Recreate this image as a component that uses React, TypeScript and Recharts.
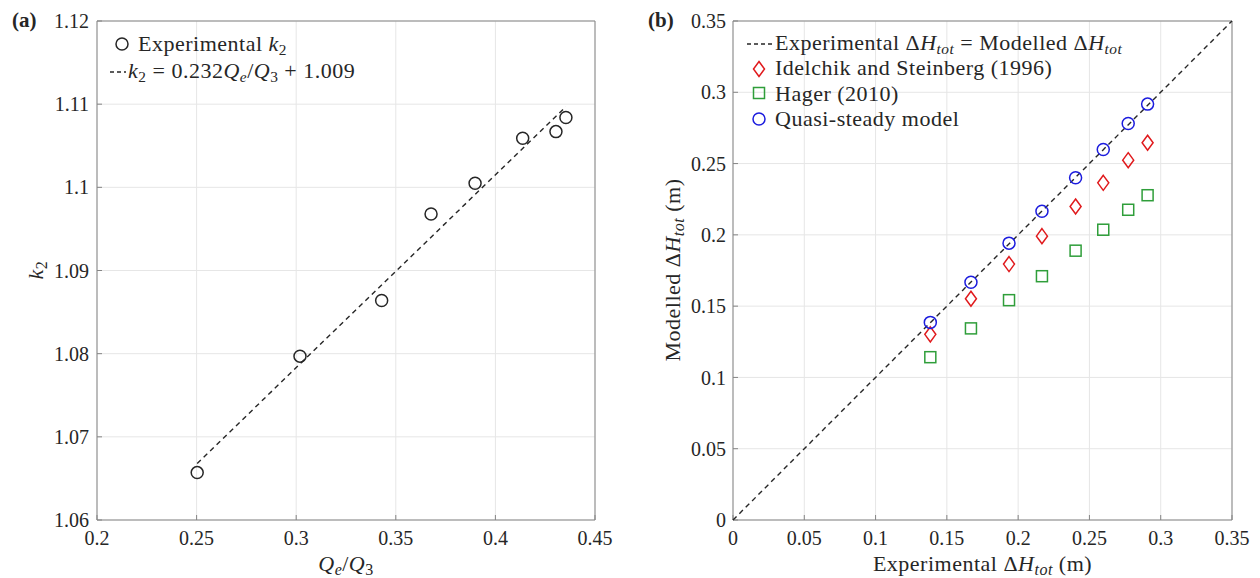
import { CartesianGrid, Label, Legend, Scatter, ScatterChart, XAxis, YAxis } from "recharts"

// panel (a): k2 vs Qe/Q3
const qRatio = [0.2503, 0.3019, 0.3429, 0.3677, 0.3898, 0.4137, 0.4304, 0.4354]
const k2Exp = [1.0657, 1.0797, 1.0864, 1.0968, 1.1005, 1.1059, 1.1067, 1.1084]
const fitQ = [0.2503, 0.4354]
const fitK2 = [1.0668, 1.1097]
const qTicks = [0.2, 0.25, 0.3, 0.35, 0.4, 0.45]
const k2Ticks = [1.06, 1.07, 1.08, 1.09, 1.1, 1.11, 1.12]

// panel (b): modelled vs experimental head loss
const expH = [0.1384, 0.1669, 0.1936, 0.2167, 0.2403, 0.2597, 0.2772, 0.2908]
const quasiH = [0.1386, 0.1668, 0.1942, 0.2166, 0.24, 0.2599, 0.2781, 0.2917]
const idelchikH = [0.1302, 0.1552, 0.1795, 0.1991, 0.2199, 0.2365, 0.2524, 0.2646]
const hagerH = [0.1142, 0.1344, 0.1542, 0.171, 0.1889, 0.2036, 0.2176, 0.2278]
const parityH = [0, 0.35]
const hTicks = [0, 0.05, 0.1, 0.15, 0.2, 0.25, 0.3, 0.35]

const FONT = "'Liberation Serif', 'Times New Roman', serif"
const INK = "#262626"
const FRAME = "#858585"
const GRID = "#e6e6e6"
const RED = "#e0191c"
const GREEN = "#2f9e3a"
const BLUE = "#1c1cde"
const TXT = 22
const SPACING = 0.5

const zip = (xs: number[], ys: number[]) => xs.map((x, i) => ({ x, y: ys[i] }))

const k2Data = zip(qRatio, k2Exp)
const fitData = zip(fitQ, fitK2)
const quasiData = zip(expH, quasiH)
const idelchikData = zip(expH, idelchikH)
const hagerData = zip(expH, hagerH)
const parityData = zip(parityH, parityH)

const tickStyle = { fontFamily: FONT, fontSize: 20, fill: INK }

const circle = (color: string) => (p: any) => (
  <circle cx={p.cx} cy={p.cy} r={6} fill="none" stroke={color} strokeWidth={1.5} />
)
const diamond = (p: any) => (
  <path
    d={`M${p.cx},${p.cy - 7.5}L${p.cx + 5.5},${p.cy}L${p.cx},${p.cy + 7.5}L${p.cx - 5.5},${p.cy}Z`}
    fill="none"
    stroke={RED}
    strokeWidth={1.5}
  />
)
const square = (p: any) => (
  <rect x={p.cx - 5.5} y={p.cy - 5.5} width={11} height={11} fill="none" stroke={GREEN} strokeWidth={1.5} />
)
const noShape = () => <g />

const sub = { fontSize: "70%", verticalAlign: "-0.25em", lineHeight: 0 }

function DeltaH() {
  return (
    <>
      Δ<i>H</i>
      <sub style={sub}>
        <i>tot</i>
      </sub>
    </>
  )
}

const dash = (x: number, y: number, w: number) => (
  <svg style={{ position: "absolute", left: x, top: y - 2 }} width={w} height={4}>
    <line x1={0} y1={2} x2={w} y2={2} stroke={INK} strokeWidth={1.4} strokeDasharray="4 3" />
  </svg>
)

const row = (x: number, y: number, children: any) => (
  <div style={{ position: "absolute", left: x, top: y - 11, height: 22, lineHeight: "22px", whiteSpace: "nowrap" }}>
    {children}
  </div>
)

const legendBox = { position: "relative" as const, width: 630, fontFamily: FONT, fontSize: TXT, letterSpacing: SPACING, color: INK }

function LegendA() {
  return (
    <div style={{ ...legendBox, height: 100 }}>
      <svg style={{ position: "absolute", left: 115, top: 37 }} width={14} height={14}>
        <circle cx={7} cy={7} r={6} fill="none" stroke={INK} strokeWidth={1.5} />
      </svg>
      {row(138, 44, <>Experimental <i>k</i><sub style={sub}>2</sub></>)}
      {dash(110, 72, 16)}
      {row(128, 71, <><i>k</i><sub style={sub}>2</sub> = 0.232<i>Q</i><sub style={sub}><i>e</i></sub>/<i>Q</i><sub style={sub}>3</sub> + 1.009</>)}
    </div>
  )
}

function LegendB() {
  return (
    <div style={{ ...legendBox, height: 140 }}>
      {dash(117, 44, 27)}
      {row(145, 43, <>Experimental <DeltaH /> = Modelled <DeltaH /></>)}
      <svg style={{ position: "absolute", left: 121, top: 60 }} width={16} height={18}>
        <path d="M8,1.5L13.5,9L8,16.5L2.5,9Z" fill="none" stroke={RED} strokeWidth={1.5} />
      </svg>
      {row(145, 68, <>Idelchik and Steinberg (1996)</>)}
      <svg style={{ position: "absolute", left: 122, top: 86 }} width={14} height={14}>
        <rect x={1.5} y={1.5} width={11} height={11} fill="none" stroke={GREEN} strokeWidth={1.5} />
      </svg>
      {row(145, 93.5, <>Hager (2010)</>)}
      <svg style={{ position: "absolute", left: 122, top: 112 }} width={14} height={14}>
        <circle cx={7} cy={7} r={6} fill="none" stroke={BLUE} strokeWidth={1.5} />
      </svg>
      {row(145, 119, <>Quasi-steady model</>)}
    </div>
  )
}

const titleProps = { fontFamily: FONT, fontSize: TXT, letterSpacing: SPACING, fill: INK, textAnchor: "middle" as const }

const QLabel = ({ viewBox }: any) => (
  <text x={viewBox.x + viewBox.width / 2} y={viewBox.y + 51} {...titleProps}>
    <tspan fontStyle="italic">Q</tspan>
    <tspan dy={4} fontSize={16} fontStyle="italic">e</tspan>
    <tspan dy={-4}>/</tspan>
    <tspan fontStyle="italic">Q</tspan>
    <tspan dy={4} fontSize={16}>3</tspan>
  </text>
)

const K2Label = () => (
  <text x={43} y={270} transform="rotate(-90 43 270)" {...titleProps}>
    <tspan fontStyle="italic">k</tspan>
    <tspan dy={4} fontSize={16}>2</tspan>
  </text>
)

const ExpLabel = ({ viewBox }: any) => (
  <text x={viewBox.x + viewBox.width / 2} y={viewBox.y + 51} {...titleProps}>
    <tspan>Experimental Δ</tspan>
    <tspan fontStyle="italic">H</tspan>
    <tspan dy={4} fontSize={16} fontStyle="italic">tot</tspan>
    <tspan dy={-4}> (m)</tspan>
  </text>
)

const ModLabel = () => (
  <text x={50} y={270} transform="rotate(-90 50 270)" {...titleProps}>
    <tspan>Modelled Δ</tspan>
    <tspan fontStyle="italic">H</tspan>
    <tspan dy={4} fontSize={16} fontStyle="italic">tot</tspan>
    <tspan dy={-4}> (m)</tspan>
  </text>
)

const fmt = (v: number) => String(v)

const panelTag = (text: string, left: number) => (
  <div
    style={{
      position: "absolute",
      left,
      top: 7,
      fontFamily: FONT,
      fontSize: 21,
      fontWeight: "bold",
      color: INK,
      lineHeight: "26px",
    }}
  >
    {text}
  </div>
)

export default function App() {
  return (
    <div style={{ position: "fixed", left: 0, top: 0, width: 1260, height: 578, background: "#fff" }}>
      {panelTag("(a)", 12)}
      {panelTag("(b)", 648)}

      <div style={{ position: "absolute", left: 0, top: 0 }}>
        <ScatterChart width={630} height={578} margin={{ top: 20, right: 34, bottom: 28, left: 37 }}>
          <CartesianGrid stroke={GRID} strokeWidth={1} />
          <XAxis
            type="number"
            dataKey="x"
            domain={[0.2, 0.45]}
            ticks={qTicks}
            tickFormatter={fmt}
            height={30}
            stroke={FRAME}
            tick={tickStyle}
            tickSize={-5}
            tickMargin={16}
            interval={0}
          >
            <Label content={QLabel} />
          </XAxis>
          <XAxis xAxisId="top" orientation="top" type="number" domain={[0.2, 0.45]} ticks={qTicks} height={1} stroke={FRAME} tick={false} tickSize={-5} />
          <YAxis
            type="number"
            dataKey="y"
            domain={[1.06, 1.12]}
            ticks={k2Ticks}
            tickFormatter={fmt}
            width={60}
            stroke={FRAME}
            tick={tickStyle}
            tickSize={-5}
            tickMargin={13}
            interval={0}
          >
            <Label content={K2Label} />
          </YAxis>
          <YAxis yAxisId="right" orientation="right" type="number" domain={[1.06, 1.12]} ticks={k2Ticks} width={1} stroke={FRAME} tick={false} tickSize={-5} />
          <Scatter
            data={fitData}
            shape={noShape}
            line={{ stroke: INK, strokeWidth: 1.4, strokeDasharray: "5 4" }}
            isAnimationActive={false}
          />
          <Scatter data={k2Data} shape={circle(INK)} isAnimationActive={false} />
          <Legend layout="vertical" align="center" verticalAlign="middle" wrapperStyle={{ left: 0, top: 0, width: 630 }} content={() => <LegendA />} />
        </ScatterChart>
      </div>

      <div style={{ position: "absolute", left: 630, top: 0 }}>
        <ScatterChart width={630} height={578} margin={{ top: 20, right: 27, bottom: 28, left: 43 }}>
          <CartesianGrid stroke={GRID} strokeWidth={1} />
          <XAxis
            type="number"
            dataKey="x"
            domain={[0, 0.35]}
            ticks={hTicks}
            tickFormatter={fmt}
            height={30}
            stroke={FRAME}
            tick={tickStyle}
            tickSize={-5}
            tickMargin={16}
            interval={0}
          >
            <Label content={ExpLabel} />
          </XAxis>
          <XAxis xAxisId="top" orientation="top" type="number" domain={[0, 0.35]} ticks={hTicks} height={1} stroke={FRAME} tick={false} tickSize={-5} />
          <YAxis
            type="number"
            dataKey="y"
            domain={[0, 0.35]}
            ticks={hTicks}
            tickFormatter={fmt}
            width={60}
            stroke={FRAME}
            tick={tickStyle}
            tickSize={-5}
            tickMargin={12}
            interval={0}
          >
            <Label content={ModLabel} />
          </YAxis>
          <YAxis yAxisId="right" orientation="right" type="number" domain={[0, 0.35]} ticks={hTicks} width={1} stroke={FRAME} tick={false} tickSize={-5} />
          <Scatter
            data={parityData}
            shape={noShape}
            line={{ stroke: INK, strokeWidth: 1.4, strokeDasharray: "5 4" }}
            isAnimationActive={false}
          />
          <Scatter data={hagerData} shape={square} isAnimationActive={false} />
          <Scatter data={idelchikData} shape={diamond} isAnimationActive={false} />
          <Scatter data={quasiData} shape={circle(BLUE)} isAnimationActive={false} />
          <Legend layout="vertical" align="center" verticalAlign="middle" wrapperStyle={{ left: 0, top: 0, width: 630 }} content={() => <LegendB />} />
        </ScatterChart>
      </div>
    </div>
  )
}
